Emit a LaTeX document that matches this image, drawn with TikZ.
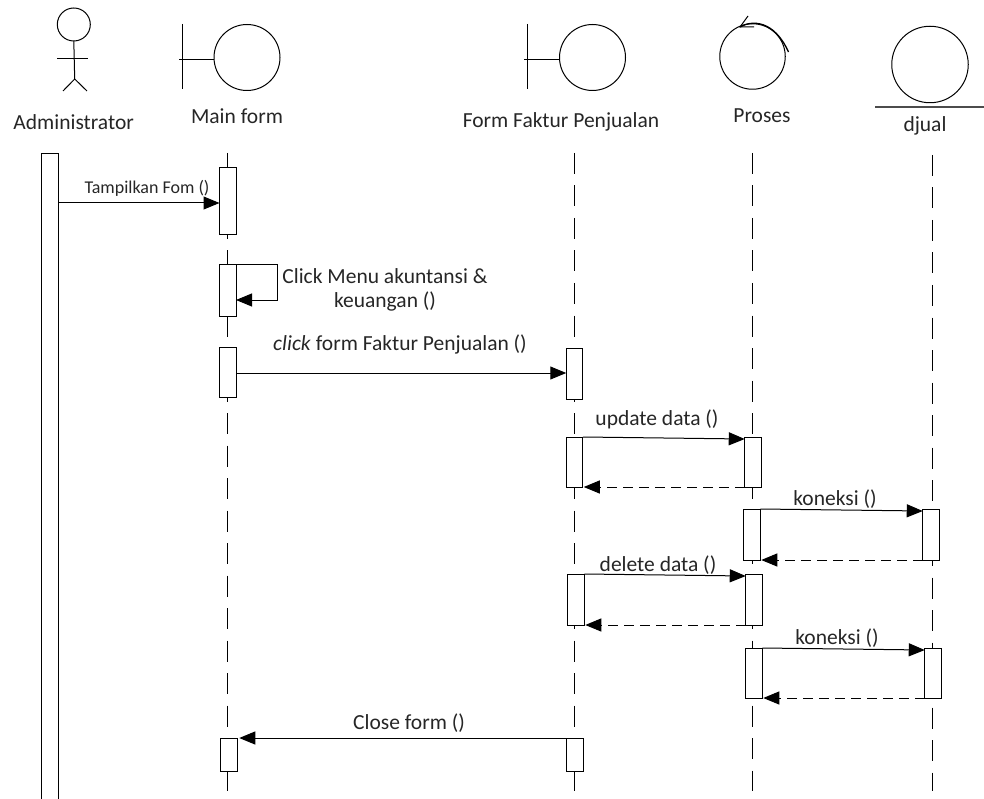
\documentclass[tikz,border=0pt]{standalone}
\usepackage{fontspec}
\setmainfont{Carlito}
\usetikzlibrary{arrows.meta}
\tikzset{
  actbox/.style={draw,fill=white,rectangle,inner sep=0pt,outer sep=0pt,minimum width=16.5pt},
  lifeline/.style={dash pattern=on 21pt off 11.5pt},
  msg/.style={-{Triangle[length=16pt,width=13pt]}},
  ret/.style={msg,dash pattern=on 10pt off 6pt},
  lbl/.style={inner sep=0pt,font=\fontsize{21.5}{24}\selectfont,text=black!85},
  symb/.style={draw,circle,inner sep=0pt,outer sep=0pt}
}
\begin{document}
\begin{tikzpicture}[x=1pt,y=-1pt,line width=1pt]
\useasboundingbox (0,0) rectangle (984,799);
% actor
\node[symb,minimum size=33pt] (head) at (73.8,24.5) {};
\coordinate (foot) at (74.7,79);\coordinate (arml) at (57,59);\coordinate (armr) at (88,59);
\coordinate (legl) at (63,91);\coordinate (legr) at (87,91);
\draw (head.south)--(foot);\draw (arml)--(armr);\draw (legl)--(foot)--(legr);
% boundaries
\node[symb,minimum size=66pt] (mainc) at (247,57.5) {};
\coordinate (mainbt) at (182,24);\coordinate (mainbb) at (182,89);\coordinate (mainbl) at (179,60);
\draw (mainbt)--(mainbb);\draw (mainbl)--(mainc.west |- mainbl);
\node[symb,minimum size=66pt] (fakc) at (592.5,57.5) {};
\coordinate (fakbt) at (527,24);\coordinate (fakbb) at (527,89);\coordinate (fakbl) at (524,60);
\draw (fakbt)--(fakbb);\draw (fakbl)--(fakc.west |- fakbl);
% control
\node[symb,minimum size=65.5pt] (proc) at (752.5,56.5) {};
\coordinate (proa) at (740,27);\coordinate (prob) at (748,16);\coordinate (proe) at (754,27);\coordinate (prof) at (788.5,52);
\draw (prob)--(proa)--(proe);
\draw[line width=1.3pt] (proa) .. controls (752,20) and (774,20) .. (prof);
% entity
\node[symb,minimum size=76.5pt] (djc) at (930,64.5) {};
\coordinate (djl) at (875,107);\coordinate (djr) at (984,107);
\draw[line width=1.5pt,black!70] (djl)--(djr);
% names
\node[lbl] (admname) at (73.7,122) {Administrator};
\node[lbl] (mainname) at (237,116) {Main form};
\node[lbl] (fakname) at (561,122) {Form Faktur Penjualan};
\node[lbl] (proname) at (762,116) {Proses};
\node[lbl] (djname) at (925,126) {djual};
% lifelines
\coordinate (lmt) at (227.5,153);\coordinate (lmb) at (227.5,791);
\coordinate (lft) at (574.5,153);\coordinate (lfb) at (574.5,791);
\coordinate (lpt) at (752.5,153);\coordinate (lpb) at (752.5,791);
\coordinate (ldt) at (932,155);\coordinate (ldb) at (932,791);
\draw[lifeline] (lmt)--(lmb);\draw[lifeline] (lft)--(lfb);\draw[lifeline] (lpt)--(lpb);\draw[lifeline] (ldt)--(ldb);
% administrator bar, cut by the page
\node[minimum width=17pt,minimum height=645pt,inner sep=0pt,outer sep=0pt] (adm) at (49.5,476.5) {};
\draw[fill=white] (adm.south west)--(adm.north west)--(adm.north east)--(adm.south east);
% activations
\node[actbox,minimum height=67pt] (maina) at (227.75,201.5) {};
\node[actbox,minimum height=51pt] (mainb) at (227.75,290.5) {};
\node[actbox,minimum height=50pt] (mainc2) at (227.75,372) {};
\node[actbox,minimum height=33pt] (maind) at (229,754.5) {};
\node[actbox,minimum height=51pt] (faka) at (574.5,373.5) {};
\node[actbox,minimum height=50pt] (fakb) at (574.5,462) {};
\node[actbox,minimum height=51pt] (fakd) at (576,599.5) {};
\node[actbox,minimum height=33pt] (fake) at (575,754.5) {};
\node[actbox,minimum height=50pt] (proa2) at (753,462) {};
\node[actbox,minimum height=51pt] (prob2) at (752,534.5) {};
\node[actbox,minimum height=51pt] (prod) at (754,599.5) {};
\node[actbox,minimum height=50pt] (proe2) at (754,673) {};
\node[actbox,minimum height=51pt] (djb) at (931,534.5) {};
\node[actbox,minimum height=50pt] (dje) at (933,673) {};
% messages
\coordinate (admout) at (adm.east |- 0,203);\draw[msg] (admout)--(maina.west |- admout);
\node[lbl,font=\fontsize{18}{20}\selectfont] (m1) at (147,188.5) {Tampilkan Fom ()};
\coordinate (loopa) at (277,265);\coordinate (loopb) at (277,300);
\draw[msg] (mainb.north east)--(loopa)--(loopb)--(mainb.east |- loopb);
\node[lbl,align=center] (m2) at (385,290) {Click Menu akuntansi \&\\keuangan ()};
\coordinate (mcout) at (mainc2.east |- 0,373);\draw[msg] (mcout)--(faka.west |- mcout);
\node[lbl] (m3) at (400,344) {\textit{click} form Faktur Penjualan ()};
\draw[msg] (fakb.north east)--([yshift=-2pt]proa2.north west);
\node[lbl] (m4) at (657,419) {update data ()};
\draw[ret] (proa2.south west)--([xshift=1pt]fakb.south east);
\draw[msg] (prob2.north east)--([yshift=-2pt]djb.north west);
\node[lbl] (m5) at (835,499) {koneksi ()};
\draw[ret] (djb.south west)--([xshift=1pt]prob2.south east);
\draw[msg] (fakd.north east)--([yshift=-2pt]prod.north west);
\node[lbl] (m6) at (658,565) {delete data ()};
\draw[ret] (prod.south west)--([xshift=1pt]fakd.south east);
\draw[msg] (proe2.north east)--([yshift=-2pt]dje.north west);
\node[lbl] (m7) at (837,638) {koneksi ()};
\draw[ret] (dje.south west)--([xshift=1pt]proe2.south east);
\draw[msg] (fake.north west)--([xshift=2pt]maind.north east);
\node[lbl] (m8) at (409,723) {Close form ()};
\end{tikzpicture}
\end{document}
